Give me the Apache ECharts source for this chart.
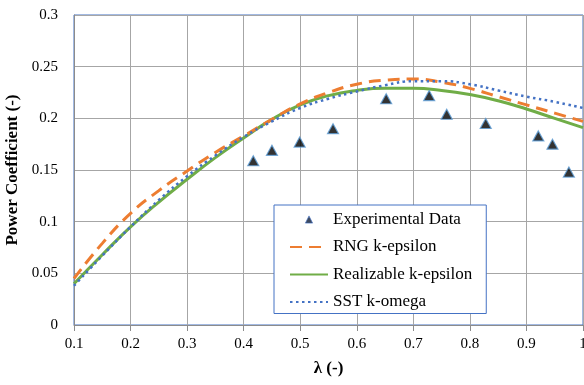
<!DOCTYPE html>
<html>
<head>
<meta charset="utf-8">
<script src="https://cdn.jsdelivr.net/npm/echarts@6/dist/echarts.min.js"></script>
<style>
  html, body { margin: 0; padding: 0; background: #fff; }
  #chart { width: 584px; height: 385px; }
</style>
</head>
<body>
<div id="chart"></div>
<script>
  // tip speed ratio values for the CFD curves
  var lambdaCfd = [0.1, 0.15, 0.2, 0.25, 0.3, 0.35, 0.4, 0.45, 0.5, 0.55, 0.6, 0.65, 0.7, 0.75, 0.8, 0.85, 0.9, 0.95, 1.0];
  var rngKe = [0.045, 0.079, 0.108, 0.130, 0.149, 0.167, 0.183, 0.199, 0.214, 0.225, 0.233, 0.237, 0.238, 0.235, 0.229, 0.221, 0.213, 0.205, 0.197];
  var realizableKe = [0.040, 0.068, 0.095, 0.119, 0.141, 0.162, 0.181, 0.199, 0.213, 0.222, 0.227, 0.229, 0.229, 0.227, 0.223, 0.217, 0.209, 0.200, 0.191];
  var sstKw = [0.038, 0.067, 0.095, 0.121, 0.144, 0.164, 0.182, 0.197, 0.210, 0.219, 0.226, 0.232, 0.236, 0.236, 0.233, 0.227, 0.221, 0.216, 0.210];

  // experimental points
  var lambdaExp = [0.417, 0.450, 0.499, 0.558, 0.652, 0.728, 0.759, 0.828, 0.921, 0.946, 0.975];
  var cpExp = [0.159, 0.169, 0.177, 0.190, 0.219, 0.222, 0.204, 0.195, 0.183, 0.175, 0.148];

  var xTicks = ['0.1', '0.2', '0.3', '0.4', '0.5', '0.6', '0.7', '0.8', '0.9', '1'];
  var yTicks = ['0', '0.05', '0.1', '0.15', '0.2', '0.25', '0.3'];

  function pairs(xs, ys) {
    return xs.map(function (x, i) { return [x, ys[i]]; });
  }

  var font = 'Liberation Serif';
  // small triangle centred in the wide legend slot
  var triIcon = 'path://M0,0L0,0M38,10L38,10M15,9L19,1L23,9Z';
  var noSymbol = { opacity: 0 };

  var chart = echarts.init(document.getElementById('chart'));

  chart.setOption({
    animation: false,
    backgroundColor: '#fff',
    grid: {
      left: 74, right: 1, top: 15, bottom: 60,
      containLabel: false,
      outerBoundsMode: 'none',
      show: true, borderColor: '#4472C4', borderWidth: 1
    },
    xAxis: {
      type: 'value',
      min: 0.1, max: 1, interval: 0.1,
      name: 'λ (-)',
      nameLocation: 'middle',
      nameGap: 35,
      nameTextStyle: { fontFamily: font, fontSize: 17, fontWeight: 'bold', color: '#000' },
      axisLine: { show: true, lineStyle: { color: '#8c8c8c', width: 1 } },
      axisTick: { show: true, length: 6, lineStyle: { color: '#8c8c8c' } },
      splitLine: { show: true, lineStyle: { color: '#a6a6a6', width: 1 } },
      axisLabel: {
        fontFamily: font, fontSize: 15, color: '#000', margin: 12,
        formatter: function (v) {
          var i = Math.round((v - 0.1) * 10);
          return xTicks[i] !== undefined ? xTicks[i] : '';
        }
      }
    },
    yAxis: {
      type: 'value',
      min: 0, max: 0.3, interval: 0.05,
      name: 'Power Coefficient (-)',
      nameLocation: 'middle',
      nameGap: 50,
      nameTextStyle: { fontFamily: font, fontSize: 17, fontWeight: 'bold', color: '#000' },
      axisLine: { show: true, lineStyle: { color: '#8c8c8c', width: 1 } },
      axisTick: { show: false },
      splitLine: { show: true, lineStyle: { color: '#a6a6a6', width: 1 } },
      axisLabel: {
        fontFamily: font, fontSize: 15, color: '#000', margin: 16,
        formatter: function (v) {
          var i = Math.round(v / 0.05);
          return yTicks[i] !== undefined ? yTicks[i] : '';
        }
      }
    },
    legend: {
      orient: 'vertical',
      left: 274, top: 205,
      backgroundColor: '#fff',
      borderColor: '#4472C4',
      borderWidth: 1,
      padding: [6, 14, 3, 15],
      itemWidth: 38,
      itemHeight: 9,
      itemGap: 10.5,
      textStyle: { fontFamily: font, fontSize: 17, color: '#000', lineHeight: 16 },
      data: [
        { name: 'Experimental Data', icon: triIcon, itemStyle: { color: '#0d1b36', borderColor: '#4472C4', borderWidth: 0.8 } },
        { name: 'RNG k-epsilon', itemStyle: noSymbol },
        { name: 'Realizable k-epsilon', itemStyle: noSymbol },
        { name: 'SST k-omega', itemStyle: noSymbol }
      ]
    },
    series: [
      {
        name: 'Realizable k-epsilon',
        type: 'line',
        smooth: true,
        symbol: 'none',
        data: pairs(lambdaCfd, realizableKe),
        lineStyle: { color: '#70AD47', width: 3 },
        itemStyle: { color: '#70AD47' },
        z: 2
      },
      {
        name: 'RNG k-epsilon',
        type: 'line',
        smooth: true,
        symbol: 'none',
        data: pairs(lambdaCfd, rngKe),
        lineStyle: { color: '#ED7D31', width: 3, type: [12, 7] },
        itemStyle: { color: '#ED7D31' },
        z: 3
      },
      {
        name: 'SST k-omega',
        type: 'line',
        smooth: true,
        symbol: 'none',
        data: pairs(lambdaCfd, sstKw),
        lineStyle: { color: '#4472C4', width: 2.5, type: [2.5, 3.5] },
        itemStyle: { color: '#4472C4' },
        z: 4
      },
      {
        name: 'Experimental Data',
        type: 'scatter',
        symbol: 'triangle',
        symbolSize: [11, 10],
        data: pairs(lambdaExp, cpExp),
        itemStyle: { color: '#000', borderColor: '#5B9BD5', borderWidth: 1.2 },
        z: 5
      }
    ]
  });
</script>
</body>
</html>
